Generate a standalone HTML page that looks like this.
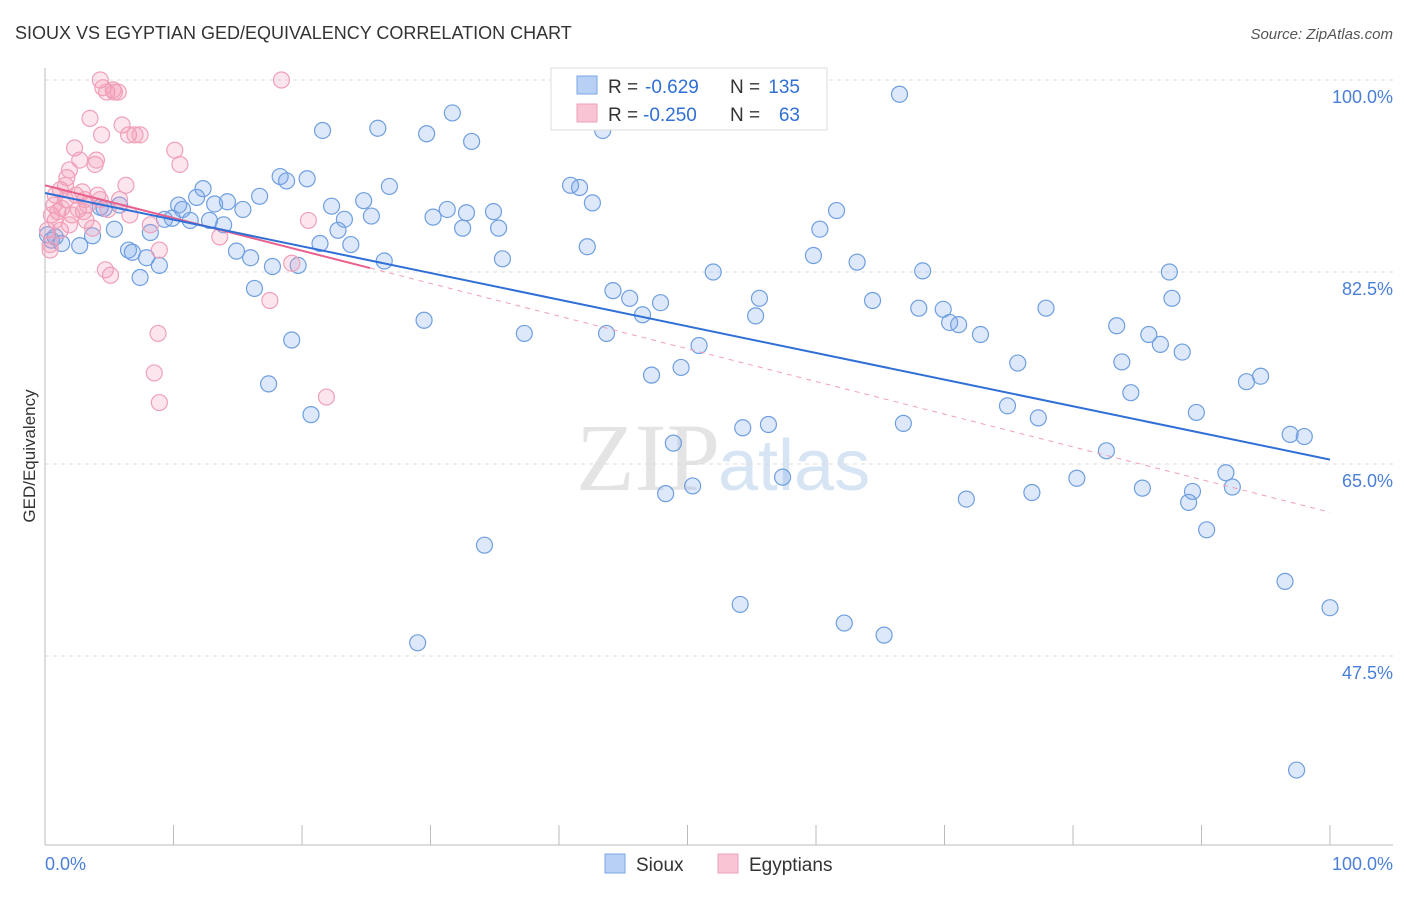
<!DOCTYPE html>
<html><head><meta charset="utf-8"><style>
body{margin:0;background:#fff;font-family:"Liberation Sans",sans-serif;}
</style></head><body>
<svg id="c" width="1406" height="892" xmlns="http://www.w3.org/2000/svg">
<text x="15" y="39" font-size="18" fill="#333">SIOUX VS EGYPTIAN GED/EQUIVALENCY CORRELATION CHART</text>
<text x="1393" y="39" font-size="15" fill="#555" font-style="italic" text-anchor="end">Source: ZipAtlas.com</text>
<text x="720" y="490" font-size="96" fill="#e4e4e4" text-anchor="end" font-family="Liberation Serif,serif">ZIP</text>
<text x="718" y="490" font-size="72" fill="#d6e4f4">atlas</text>
<g id="grid"></g><g id="pts"></g><g id="lines"></g>
<text transform="translate(35,456) rotate(-90)" font-size="17" fill="#333" text-anchor="middle">GED/Equivalency</text>
<text x="45" y="870" font-size="18" fill="#4a7fd8">0.0%</text>
<text x="1393" y="870" font-size="18" fill="#4a7fd8" text-anchor="end">100.0%</text>
<g>
<rect x="551" y="68" width="276" height="62" fill="#fff" stroke="#ddd"/>
<rect x="577" y="76" width="20" height="18" fill="#b8d0f4" stroke="#7aa6e6"/>
<rect x="577" y="104" width="20" height="18" fill="#f9c4d4" stroke="#f0a0b8"/>
<text x="608" y="93" font-size="19" fill="#333">R =</text>
<text x="645" y="93" font-size="19" fill="#2f6fd6">-0.629</text>
<text x="730" y="93" font-size="19" fill="#333">N =</text>
<text x="800" y="93" font-size="19" fill="#2f6fd6" text-anchor="end">135</text>
<text x="608" y="121" font-size="19" fill="#333">R =</text>
<text x="643" y="121" font-size="19" fill="#2f6fd6">-0.250</text>
<text x="730" y="121" font-size="19" fill="#333">N =</text>
<text x="800" y="121" font-size="19" fill="#2f6fd6" text-anchor="end">63</text>
</g>
<g>
<rect x="605" y="854" width="20" height="19" fill="#b8d0f4" stroke="#7aa6e6"/>
<text x="636" y="871" font-size="19" fill="#333">Sioux</text>
<rect x="718" y="854" width="20" height="19" fill="#f9c4d4" stroke="#f0a0b8"/>
<text x="749" y="871" font-size="19" fill="#333">Egyptians</text>
</g>
</svg>
<script>
const yTicks=[100,82.5,65,47.5];
const xTicks=[0,10,20,30,40,50,60,70,80,90,100];
const siouxPx=[[52,240],[55,237],[62,243],[80,246],[93,236],[100,207],[104,208],[115,229],[120,205],[128,250],[132,252],[140,277],[146,258],[150,232],[159,265],[165,219],[172,218],[178,205],[182,210],[190,220],[197,197],[203,189],[210,220],[214,204],[224,225],[228,202],[236,251],[243,210],[250,258],[255,288],[259,196],[269,384],[273,267],[280,177],[287,181],[292,340],[298,265],[307,179],[311,415],[320,244],[322,131],[332,206],[338,230],[345,219],[351,245],[364,201],[371,216],[378,128],[384,261],[390,186],[424,320],[418,643],[427,134],[433,217],[447,209],[452,113],[462,228],[466,213],[472,141],[484,545],[493,212],[498,228],[503,259],[524,333],[570,185],[580,187],[587,247],[593,203],[603,131],[606,333],[613,291],[630,298],[643,315],[652,375],[661,303],[666,494],[673,443],[681,367],[693,486],[699,346],[713,272],[740,604],[743,428],[756,316],[760,298],[768,424],[782,477],[813,256],[820,229],[836,211],[844,623],[857,262],[873,300],[884,635],[899,94],[904,423],[919,308],[923,271],[943,309],[950,323],[958,325],[966,499],[981,334],[1008,406],[1018,363],[1032,492],[1038,418],[1046,308],[1077,478],[1106,451],[1117,326],[1122,362],[1131,393],[1142,488],[1149,334],[1161,344],[1170,272],[1172,298],[1182,352],[1189,502],[1193,491],[1196,412],[1207,530],[1226,473],[1232,487],[1247,382],[1260,376],[1285,581],[1290,434],[1296,770],[1304,437],[1330,608],[48,235]];
const egyptPx=[[48,230],[50,250],[52,215],[54,205],[55,195],[58,212],[60,190],[62,208],[65,200],[67,178],[70,170],[72,215],[74,148],[76,195],[78,210],[80,160],[82,192],[84,212],[86,220],[88,205],[90,118],[92,228],[95,165],[97,160],[98,195],[100,80],[102,135],[103,88],[105,270],[107,92],[108,210],[110,275],[113,90],[115,92],[118,92],[122,125],[126,185],[128,135],[130,215],[135,135],[140,135],[150,225],[154,373],[158,333],[159,402],[160,250],[175,150],[180,165],[220,237],[270,300],[282,80],[292,263],[308,220],[327,397],[60,230],[70,225],[85,200],[120,200],[65,185],[100,200],[50,245],[55,220]];
const r1=v=>Math.round(v*10)/10;
const siouxX=siouxPx.map(p=>r1((p[0]-45)/12.85)), siouxY=siouxPx.map(p=>r1(100-(p[1]-80)/10.971));
const egyptX=egyptPx.map(p=>r1((p[0]-45)/12.85)), egyptY=egyptPx.map(p=>r1(100-(p[1]-80)/10.971));
const siouxTrend=[89.7,65.4];
const egyptTrend=[90.4,60.6];
const egyptSolidEnd=25.3;
const X=v=>45+v*12.85, Y=v=>80+(100-v)*10.971;
const NS="http://www.w3.org/2000/svg";
function mk(t,a,p){const e=document.createElementNS(NS,t);for(const k in a)e.setAttribute(k,a[k]);p.appendChild(e);return e;}
const grid=document.getElementById('grid');
yTicks.forEach(t=>{
 const l=mk('line',{x1:45,x2:1393,y1:Y(t),y2:Y(t),stroke:'#ddd','stroke-dasharray':'4,4'},grid);
 
 
 const tx=mk('text',{x:1393,y:Y(t)+23,'font-size':18,fill:'#4a7fd8','text-anchor':'end'},grid);
 tx.textContent=t.toFixed(1)+'%';
 
 
});
mk('line',{x1:45,x2:45,y1:68,y2:845,stroke:'#bbb'},grid);
mk('line',{x1:45,x2:1393,y1:845,y2:845,stroke:'#bbb'},grid);
xTicks.forEach(t=>{
 const l=mk('line',{x1:X(t),x2:X(t),y1:825,y2:845,stroke:'#bbb'},grid);
 
 
});
const pts=document.getElementById('pts');
siouxX.forEach((x,i)=>{
 const c=mk('circle',{cx:X(x),cy:Y(siouxY[i]),r:8,fill:'rgba(120,165,235,0.25)',stroke:'#6f9fe0','stroke-width':1.2},pts);
 
 
});
egyptX.forEach((x,i)=>{
 const c=mk('circle',{cx:X(x),cy:Y(egyptY[i]),r:8,fill:'rgba(245,150,180,0.25)',stroke:'#f0a0b8','stroke-width':1.2},pts);
 
 
});
const lines=document.getElementById('lines');
const eAt=x=>egyptTrend[0]+(egyptTrend[1]-egyptTrend[0])*x/100;
let l=mk('line',{x1:X(egyptSolidEnd),y1:Y(eAt(egyptSolidEnd)),x2:X(100),y2:Y(egyptTrend[1]),stroke:'#f0a0b8','stroke-dasharray':'5,5','stroke-width':1},lines);


l=mk('line',{x1:X(0),y1:Y(egyptTrend[0]),x2:X(egyptSolidEnd),y2:Y(eAt(egyptSolidEnd)),stroke:'#e8608c','stroke-width':2},lines);


l=mk('line',{x1:X(0),y1:Y(siouxTrend[0]),x2:X(100),y2:Y(siouxTrend[1]),stroke:'#2f6fd6','stroke-width':2},lines);


</script>
</body></html>
